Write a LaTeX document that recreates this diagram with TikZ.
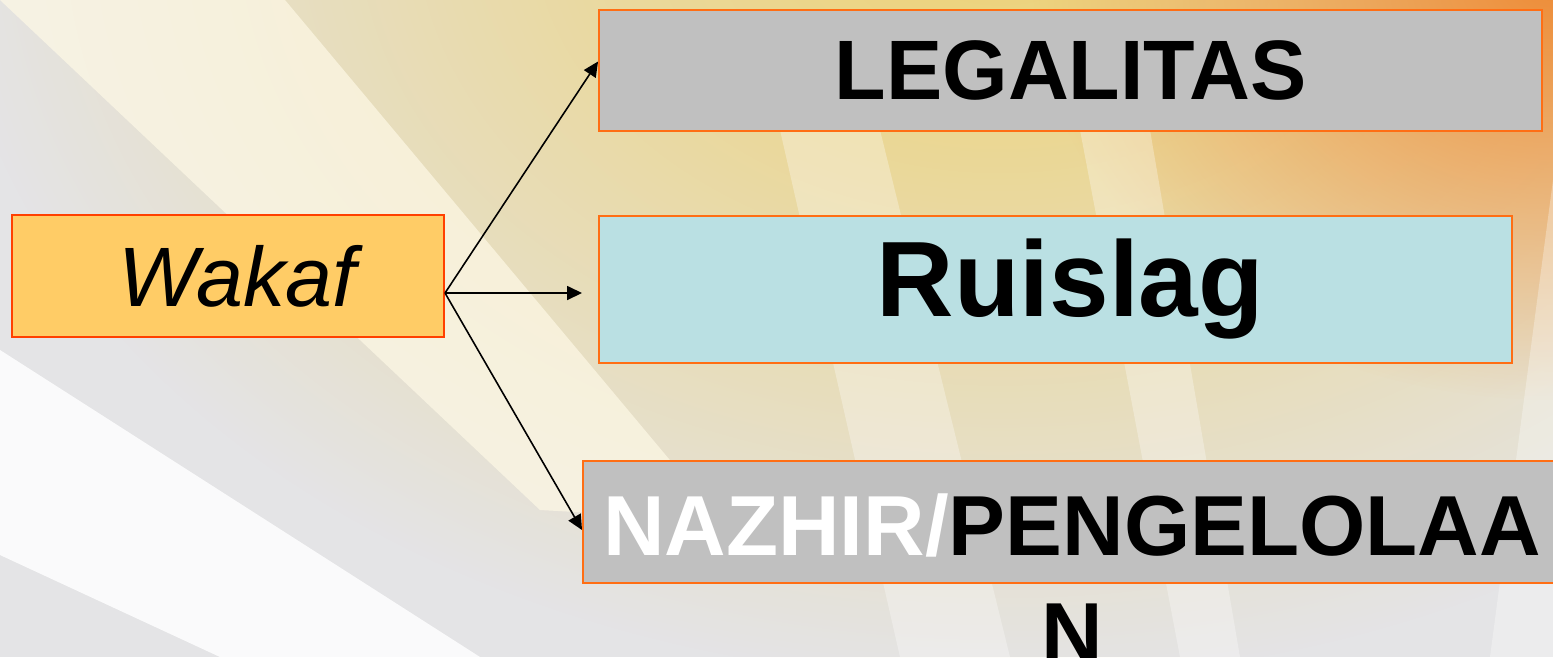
\documentclass[tikz,border=0pt]{standalone}
\usepackage{fontspec}
\setmainfont{Liberation Sans}
\usetikzlibrary{arrows.meta,fadings}

\definecolor{wakafbg}{RGB}{255,204,102}
\definecolor{wakafline}{RGB}{255,64,0}
\definecolor{boxline}{RGB}{255,110,20}
\definecolor{greybox}{RGB}{192,192,192}
\definecolor{bluebox}{RGB}{186,224,227}
\definecolor{bgbase}{RGB}{228,228,230}
\definecolor{glowyellow}{RGB}{238,210,115}
\definecolor{gloworange}{RGB}{238,140,55}
\definecolor{raycream}{RGB}{254,249,230}

\tikzfading[name=glowfade, inner color=transparent!0, outer color=transparent!100]

\tikzset{
  topicbox/.style={draw=boxline, line width=1.2pt, inner sep=0pt},
  forkarrow/.style={-{Triangle[length=0.3cm,width=0.28cm]}, line width=0.9pt, black},
}

\begin{document}
\begin{tikzpicture}[x=0.02cm, y=-0.02cm]
	\useasboundingbox (0,0) rectangle (1553,657);
	% background
	\begin{scope}
		\clip (0,0) rectangle (1553,657);
		\fill[bgbase] (0,0) rectangle (1553,657);
		\fill[glowyellow, path fading=glowfade] (1000,-80) ellipse (1050 and 760);
		\fill[gloworange, path fading=glowfade] (1553,-20) ellipse (520 and 420);
		\fill[raycream, opacity=.7] (0,0) -- (285,0) -- (720,520) -- (540,510) -- cycle;
		\fill[white, opacity=.85] (0,350) -- (480,657) -- (220,657) -- (0,555) -- cycle;
		\fill[white, opacity=.3] (780,130) -- (880,130) -- (1010,657) -- (900,657) -- cycle;
		\fill[white, opacity=.3] (1080,130) -- (1150,130) -- (1240,657) -- (1180,657) -- cycle;
		\fill[white, opacity=.3] (1553,180) -- (1553,657) -- (1490,657) -- cycle;
	\end{scope}

	\node (wakaf) [draw=wakafline, line width=1.2pt, fill=wakafbg, inner sep=0pt,
		minimum width=8.64cm, minimum height=2.44cm,
		font=\fontsize{48}{56}\selectfont\itshape] at (228,276) {\hspace*{0.36cm}Wakaf};
	\node (legalitas) [topicbox, fill=greybox, minimum width=18.86cm, minimum height=2.42cm,
		font=\fontsize{48}{56}\selectfont\bfseries] at (1070.5,70.5) {LEGALITAS};
	\node (ruislag) [topicbox, fill=bluebox, minimum width=18.26cm, minimum height=2.94cm,
		font=\fontsize{61}{70}\selectfont\bfseries] at (1055.5,289.5) {\hspace*{0.6cm}Ruislag};
	\node (nazhir) [topicbox, fill=greybox, minimum width=19.54cm, minimum height=2.44cm] at (1071.5,522) {};
	\node (nazhirtext) [anchor=base, align=center, inner sep=0pt,
		font=\fontsize{48.5}{61}\selectfont\bfseries] at (1072,662.6) {\textcolor{white}{NAZHIR/}PENGELOLAA\\N};

	\coordinate (fork) at ([yshift=-0.34cm]wakaf.east);
	\coordinate (ruislagin) at ([xshift=-0.32cm,yshift=-0.07cm]ruislag.west);

	\draw[forkarrow] (fork) -- ([yshift=0.18cm]legalitas.west);
	\draw[forkarrow] (fork) -- (ruislagin);
	\draw[forkarrow] (fork) -- ([yshift=-0.16cm]nazhir.west);
\end{tikzpicture}
\end{document}
